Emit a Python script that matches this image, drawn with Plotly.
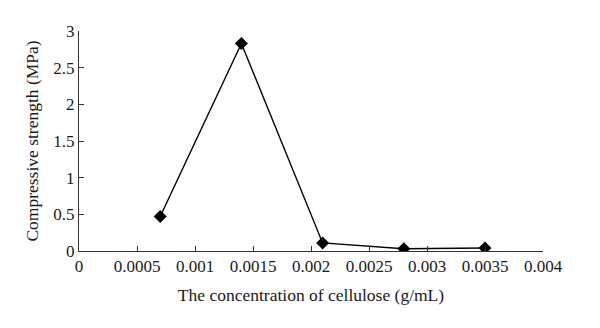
import plotly.graph_objects as go

concentration = [0.0007, 0.0014, 0.0021, 0.0028, 0.0035]
strength = [0.47, 2.83, 0.11, 0.03, 0.04]

x_ticks = [0, 0.0005, 0.001, 0.0015, 0.002, 0.0025, 0.003, 0.0035, 0.004]
x_labels = ["0", "0.0005", "0.001", "0.0015", "0.002", "0.0025", "0.003", "0.0035", "0.004"]
y_ticks = [0, 0.5, 1, 1.5, 2, 2.5, 3]
y_labels = ["0", "0.5", "1", "1.5", "2", "2.5", "3"]

font_family = "Liberation Serif"

fig = go.Figure()
fig.add_trace(go.Scatter(
    x=concentration, y=strength, mode="lines+markers",
    line=dict(color="black", width=1.4),
    marker=dict(symbol="diamond", size=10, color="black"),
    showlegend=False,
))

fig.update_layout(
    width=600, height=328,
    margin=dict(l=79, r=57, t=31, b=77, autoexpand=False),
    paper_bgcolor="white", plot_bgcolor="white",
    font=dict(family=font_family, color="#1a1a1a", size=17),
    xaxis=dict(
        range=[0, 0.004], tickvals=x_ticks, ticktext=x_labels,
        showline=True, linecolor="#333333", linewidth=1,
        ticks="inside", ticklen=5, tickcolor="#333333",
        showgrid=False, zeroline=False, automargin=False,
        tickfont=dict(size=17, family=font_family),
        title=dict(text="The concentration of cellulose (g/mL)",
                   font=dict(size=17.5, family=font_family), standoff=13),
    ),
    yaxis=dict(
        range=[0, 3], tickvals=y_ticks, ticktext=y_labels,
        showline=True, linecolor="#333333", linewidth=1,
        ticks="inside", ticklen=5, tickcolor="#333333",
        showgrid=False, zeroline=False, automargin=False,
        tickfont=dict(size=17, family=font_family),
        title=dict(text="Compressive strength (MPa)",
                   font=dict(size=17.5, family=font_family), standoff=10),
    ),
)

fig.write_html("out.html", config={"displayModeBar": False},
               post_script="document.body.style.margin='0';")
